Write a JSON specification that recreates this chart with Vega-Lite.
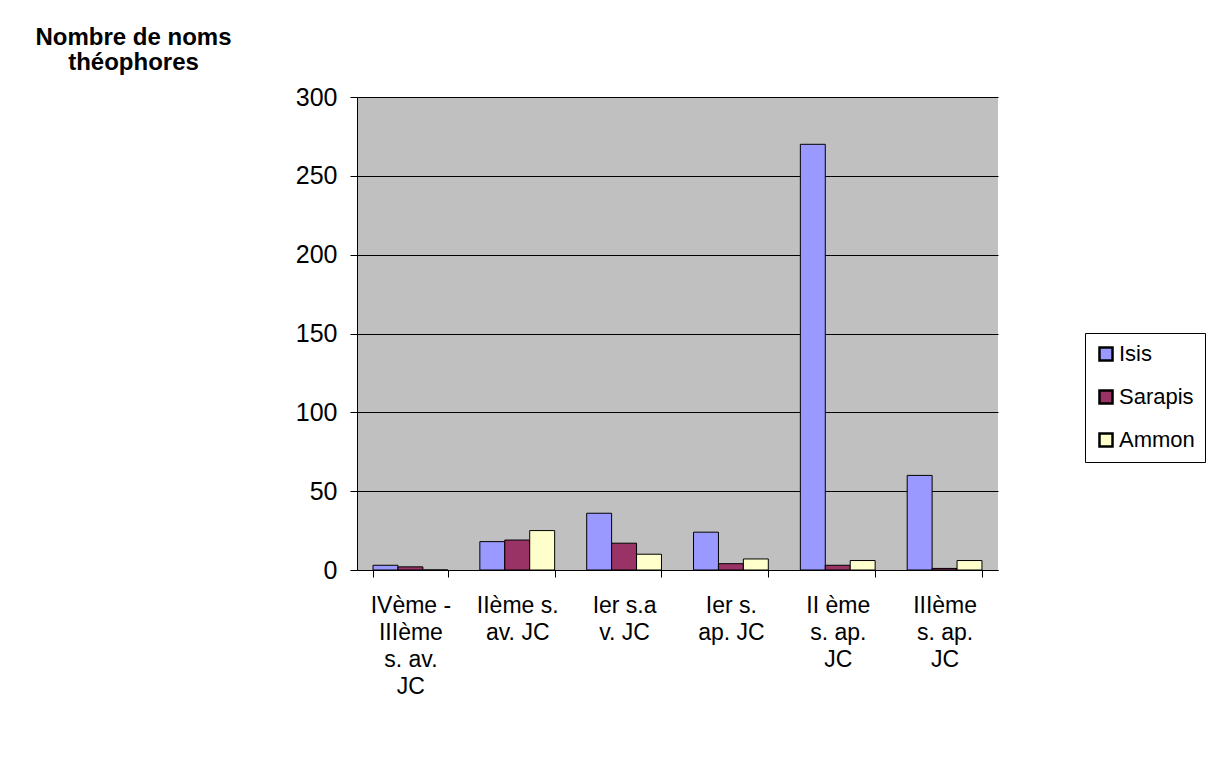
{
  "$schema": "https://vega.github.io/schema/vega-lite/v6.json",
  "width": 641,
  "height": 473,
  "autosize": "none",
  "padding": {"left": 357, "top": 97, "right": 225, "bottom": 203},
  "background": "white",
  "config": {
    "font": "Liberation Sans",
    "view": {"fill": "#C0C0C0", "stroke": null}
  },
  "data": {
    "values": [
      {"periode": "IVème - IIIème s. av. JC", "dieu": "Isis", "noms": 3},
      {"periode": "IVème - IIIème s. av. JC", "dieu": "Sarapis", "noms": 2},
      {"periode": "IVème - IIIème s. av. JC", "dieu": "Ammon", "noms": 0},
      {"periode": "IIème s. av. JC", "dieu": "Isis", "noms": 18},
      {"periode": "IIème s. av. JC", "dieu": "Sarapis", "noms": 19},
      {"periode": "IIème s. av. JC", "dieu": "Ammon", "noms": 25},
      {"periode": "Ier s.av. JC", "dieu": "Isis", "noms": 36},
      {"periode": "Ier s.av. JC", "dieu": "Sarapis", "noms": 17},
      {"periode": "Ier s.av. JC", "dieu": "Ammon", "noms": 10},
      {"periode": "Ier s. ap. JC", "dieu": "Isis", "noms": 24},
      {"periode": "Ier s. ap. JC", "dieu": "Sarapis", "noms": 4},
      {"periode": "Ier s. ap. JC", "dieu": "Ammon", "noms": 7},
      {"periode": "II ème s. ap. JC", "dieu": "Isis", "noms": 270},
      {"periode": "II ème s. ap. JC", "dieu": "Sarapis", "noms": 3},
      {"periode": "II ème s. ap. JC", "dieu": "Ammon", "noms": 6},
      {"periode": "IIIème s. ap. JC", "dieu": "Isis", "noms": 60},
      {"periode": "IIIème s. ap. JC", "dieu": "Sarapis", "noms": 1},
      {"periode": "IIIème s. ap. JC", "dieu": "Ammon", "noms": 6}
    ]
  },
  "mark": {"type": "bar", "stroke": "black", "strokeWidth": 1},
  "encoding": {
    "x": {
      "field": "periode",
      "type": "nominal",
      "sort": null,
      "scale": {"paddingInner": 0.3, "paddingOuter": 0.15},
      "axis": {
        "title": null,
        "labelAngle": 0,
        "labelFontSize": 23,
        "labelColor": "black",
        "labelLineHeight": 27,
        "labelPadding": 17,
        "labelBaseline": "top",
        "domainColor": "black",
        "tickColor": "black",
        "tickSize": 7,
        "tickBand": "extent",
        "labelExpr": "datum.value == 'IVème - IIIème s. av. JC' ? ['IVème -', 'IIIème', 's. av.', 'JC'] : datum.value == 'IIème s. av. JC' ? ['IIème s.', 'av. JC'] : datum.value == 'Ier s.av. JC' ? ['Ier s.a', 'v. JC'] : datum.value == 'Ier s. ap. JC' ? ['Ier s.', 'ap. JC'] : datum.value == 'II ème s. ap. JC' ? ['II ème', 's. ap.', 'JC'] : datum.value == 'IIIème s. ap. JC' ? ['IIIème', 's. ap.', 'JC'] : ''"
      }
    },
    "xOffset": {
      "field": "dieu",
      "type": "nominal",
      "sort": ["Isis", "Sarapis", "Ammon"],
      "scale": {"paddingInner": 0}
    },
    "y": {
      "field": "noms",
      "type": "quantitative",
      "scale": {"domain": [0, 300], "nice": false},
      "axis": {
        "values": [0, 50, 100, 150, 200, 250, 300],
        "title": ["Nombre de noms", "théophores"],
        "titleAngle": 0,
        "titleAlign": "center",
        "titleBaseline": "alphabetic",
        "titleX": -224,
        "titleY": -53,
        "titleFontSize": 24,
        "titleFontWeight": "bold",
        "titleColor": "black",
        "titleLineHeight": 25,
        "labelFontSize": 25,
        "labelColor": "black",
        "labelPadding": 13,
        "domainColor": "black",
        "tickColor": "black",
        "tickSize": 7,
        "grid": true,
        "gridColor": "black",
        "gridWidth": 1
      }
    },
    "color": {
      "field": "dieu",
      "type": "nominal",
      "sort": ["Isis", "Sarapis", "Ammon"],
      "scale": {"domain": ["Isis", "Sarapis", "Ammon"], "range": ["#9999FF", "#993366", "#FFFFCC"]},
      "legend": {
        "title": null,
        "orient": "none",
        "legendX": 728,
        "legendY": 236,
        "symbolType": "square",
        "symbolSize": 170,
        "symbolStrokeColor": "black",
        "symbolStrokeWidth": 2.5,
        "symbolOpacity": 1,
        "labelFontSize": 22,
        "labelColor": "black",
        "labelOffset": 2,
        "rowPadding": 19,
        "strokeColor": "black",
        "fillColor": "white",
        "padding": 10
      }
    }
  }
}
